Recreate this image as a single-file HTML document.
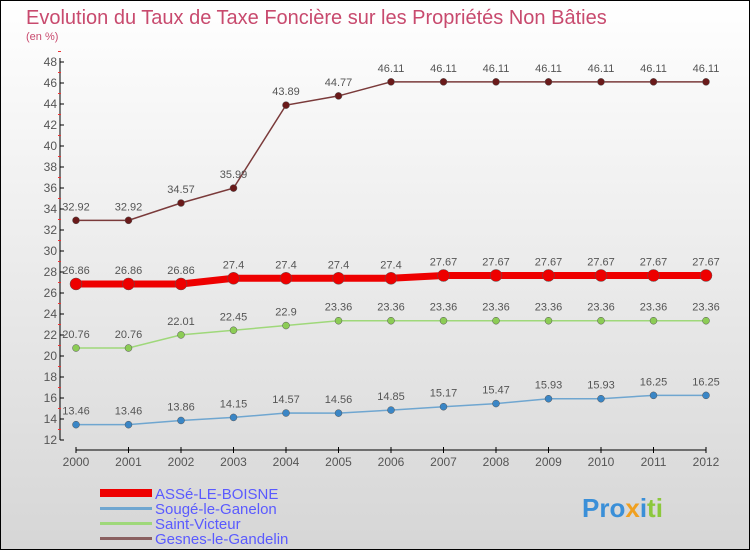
<!DOCTYPE html>
<html><head><meta charset="utf-8"><style>
body{margin:0}
#c{width:750px;height:550px;position:relative;box-sizing:border-box;border:1px solid #000;background:linear-gradient(#ffffff,#d6d6d6);font-family:"Liberation Sans",sans-serif;overflow:hidden}
</style></head><body>
<div id="c">
<svg id="s" width="750" height="550" style="position:absolute;left:-1px;top:-1px">
<text x="26" y="24" font-size="20" fill="#c84a6e">Evolution du Taux de Taxe Foncière sur les Propriétés Non Bâties</text>
<text x="26" y="40" font-size="11" fill="#c84a6e">(en %)</text>
<g id="axes"></g><g id="series"></g>
<g font-size="15" fill="#5a5aff">
<rect x="100" y="489" width="52" height="8" fill="#ee0000"/>
<text x="155" y="499">ASSé-LE-BOISNE</text>
<rect x="100" y="507" width="52" height="3" fill="#6fa6d0"/>
<text x="155" y="514">Sougé-le-Ganelon</text>
<rect x="100" y="522" width="52" height="3" fill="#9fd87a"/>
<text x="155" y="529">Saint-Victeur</text>
<rect x="100" y="537" width="52" height="3" fill="#8a6060"/>
<text x="155" y="544">Gesnes-le-Gandelin</text>
</g>
<g font-size="26" font-weight="bold">
<text x="582" y="517"><tspan fill="#3a8fd8">Pro</tspan><tspan fill="#f0a020">x</tspan><tspan fill="#3a8fd8">i</tspan><tspan fill="#8cc83c">ti</tspan></text>
</g>
</svg>
</div>
<script>
const years=[2000,2001,2002,2003,2004,2005,2006,2007,2008,2009,2010,2011,2012];
const yTicks=[12,14,16,18,20,22,24,26,28,30,32,34,36,38,40,42,44,46,48];
const asse=[26.86,26.86,26.86,27.4,27.4,27.4,27.4,27.67,27.67,27.67,27.67,27.67,27.67];
const souge=[13.46,13.46,13.86,14.15,14.57,14.56,14.85,15.17,15.47,15.93,15.93,16.25,16.25];
const saintVicteur=[20.76,20.76,22.01,22.45,22.9,23.36,23.36,23.36,23.36,23.36,23.36,23.36,23.36];
const gesnes=[32.92,32.92,34.57,35.99,43.89,44.77,46.11,46.11,46.11,46.11,46.11,46.11,46.11];
const NS="http://www.w3.org/2000/svg";
const X=i=>76+i*52.5;
const Y=v=>440-(v-12)*10.5;
function mk(tag,attrs,parent){const e=document.createElementNS(NS,tag);for(const k in attrs)e.setAttribute(k,attrs[k]);parent.appendChild(e);return e;}
const ax=document.getElementById('axes');
let a=mk('line',{x1:60,y1:Y(48)-4,x2:60,y2:Y(12),stroke:'#000'},ax);


yTicks.forEach(t=>{
 mk('line',{x1:60,y1:Y(t),x2:64,y2:Y(t),stroke:'#000'},ax);
 mk('line',{x1:58,y1:Y(t+1),x2:61,y2:Y(t+1),stroke:'#e33'},ax);
 const l=mk('text',{x:57,y:Y(t)+4,'font-size':12,'text-anchor':'end',fill:'#555'},ax);l.textContent=t;
 
 
});
a=mk('line',{x1:76,y1:450,x2:706,y2:450,stroke:'#000'},ax);


years.forEach((y,i)=>{
 mk('line',{x1:X(i),y1:447,x2:X(i),y2:453,stroke:'#000'},ax);
 const l=mk('text',{x:X(i),y:466,'font-size':12,'text-anchor':'middle',fill:'#555'},ax);l.textContent=y;
 
 
});
const sg=document.getElementById('series');
function series(vals,color,w,r,dot,name){
 const g=mk('g',{},sg);
 
 
 mk('polyline',{points:vals.map((v,i)=>X(i)+','+Y(v)).join(' '),fill:'none',stroke:color,'stroke-width':w},g);
 vals.forEach((v,i)=>{
  const c=mk('circle',{cx:X(i),cy:Y(v),r:r,fill:dot,stroke:'#555','stroke-width':0.5},g);
  
  
  const t=mk('text',{x:X(i),y:Y(v)-10,'font-size':11,'text-anchor':'middle',fill:'#555'},g);t.textContent=String(v);
  
  
 });
}
series(gesnes,'#7a3a3a',1.5,3.5,'#6a1a1a','series-gesnes');
series(saintVicteur,'#9fd87a',1.5,3.5,'#8ccc55','series-saint-victeur');
series(souge,'#6fa6d0',1.5,3.5,'#3a86c6','series-souge');
series(asse,'#ee0000',7,6,'#ee0000','series-asse');
</script>
</body></html>
